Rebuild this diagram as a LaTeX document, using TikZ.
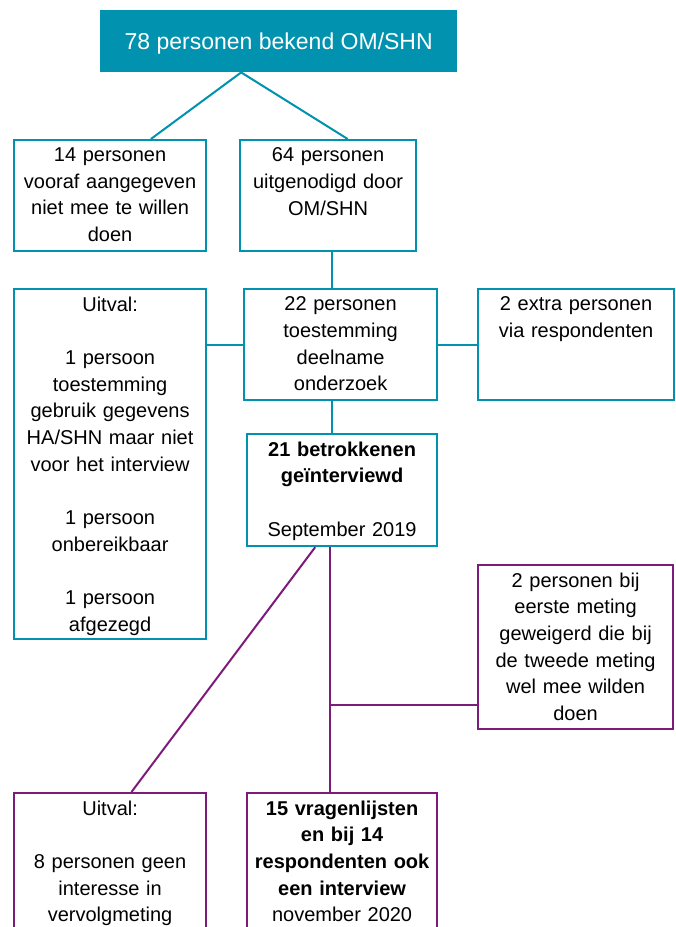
\documentclass[tikz,border=0pt]{standalone}
\usepackage{fontspec}
\setmainfont{Liberation Sans}
\usetikzlibrary{calc}
\definecolor{tealc}{RGB}{0,146,174}
\definecolor{purpc}{RGB}{125,27,123}
\begin{document}
\begin{tikzpicture}[x=1pt,y=-1pt,
  bx/.style={draw=#1, line width=2.2pt, anchor=north west, inner sep=0pt},
  txt/.style={anchor=north, align=center, inner sep=0pt, text width=#1,
    font=\fontsize{20}{26.67}\selectfont, yshift=-8.5pt},
  conn/.style={draw=#1, line width=2pt}]
\useasboundingbox (0,0) rectangle (676,927);
\clip (0,0) rectangle (676,927);
\fill[white] (0,0) rectangle (676,927);

% top box
\node[fill=tealc, anchor=north west, minimum width=357pt, minimum height=62pt,
  inner sep=0pt, text=white, text depth=0pt, font=\fontsize{23}{28}\selectfont]
  (top) at (100,10) {78 personen bekend OM/SHN};

% teal boxes
\node[bx=tealc, minimum width=192pt, minimum height=111pt] (b14) at (13,139) {};
\node[bx=tealc, minimum width=176pt, minimum height=111pt] (b64) at (239,139) {};
\node[bx=tealc, minimum width=192pt, minimum height=350pt] (buit) at (13,288) {};
\node[bx=tealc, minimum width=193pt, minimum height=111pt] (b22) at (243,288) {};
\node[bx=tealc, minimum width=196pt, minimum height=111pt] (b2x) at (477,288) {};
\node[bx=tealc, minimum width=190pt, minimum height=112pt] (b21) at (246,433) {};

% purple boxes
\node[bx=purpc, minimum width=195pt, minimum height=164pt] (bp2) at (477,564) {};
\node[bx=purpc, minimum width=192pt, minimum height=170pt] (bu8) at (13,792) {};
\node[bx=purpc, minimum width=190pt, minimum height=170pt] (b15) at (246,792) {};

% texts
\node[txt=186pt] (t14) at (b14.north) {14 personen\\vooraf aangegeven\\niet mee te willen\\doen};
\node[txt=172pt] (t64) at (b64.north) {64 personen\\uitgenodigd door\\OM/SHN};
\node[txt=186pt] (tuit) at (buit.north) {Uitval:\\[26.67pt]1 persoon\\toestemming\\gebruik gegevens\\HA/SHN maar niet\\voor het interview\\[26.67pt]1 persoon\\onbereikbaar\\[26.67pt]1 persoon\\afgezegd};
\node[txt=187pt] (t22) at (b22.north) {22 personen\\toestemming\\deelname\\onderzoek};
\node[txt=190pt] (t2x) at (b2x.north) {2 extra personen\\via respondenten};
\node[txt=184pt] (t21) at (b21.north) {\textbf{21 betrokkenen}\\\textbf{geïnterviewd}\\[26.67pt]September 2019};
\node[txt=189pt] (tp2) at (bp2.north) {2 personen bij\\eerste meting\\geweigerd die bij\\de tweede meting\\wel mee wilden\\doen};
\node[txt=186pt] (tu8) at (bu8.north) {Uitval:\\[26.67pt]8 personen geen\\interesse in\\vervolgmeting};
\node[txt=186pt] (t15) at (b15.north) {\textbf{15 vragenlijsten}\\\textbf{en bij 14}\\\textbf{respondenten ook}\\\textbf{een interview}\\november 2020};

% teal connectors
\coordinate (apex) at ($(top.south west)!0.395!(top.south east)$);
\coordinate (sp) at (332,0);
\draw[conn=tealc] (apex) -- ($(b14.north west)!0.71!(b14.north east)$);
\draw[conn=tealc] (apex) -- ($(b64.north west)!0.61!(b64.north east)$);
\draw[conn=tealc] (b64.south -| sp) -- (b22.north -| sp);
\draw[conn=tealc] (b22.south -| sp) -- (b21.north -| sp);
\draw[conn=tealc] (buit.east |- b22.west) -- (b22.west);
\draw[conn=tealc] (b22.east) -- (b2x.west |- b22.east);

% purple connectors
\coordinate (pp) at (330,0);
\coordinate (pj) at (330,705);
\draw[conn=purpc] ($(b21.south west)!0.36!(b21.south east)$) -- ($(bu8.north west)!0.61!(bu8.north east)$);
\draw[conn=purpc] (b21.south -| pp) -- (b15.north -| pp);
\draw[conn=purpc] (pj) -- (pj -| bp2.west);
\end{tikzpicture}
\end{document}
